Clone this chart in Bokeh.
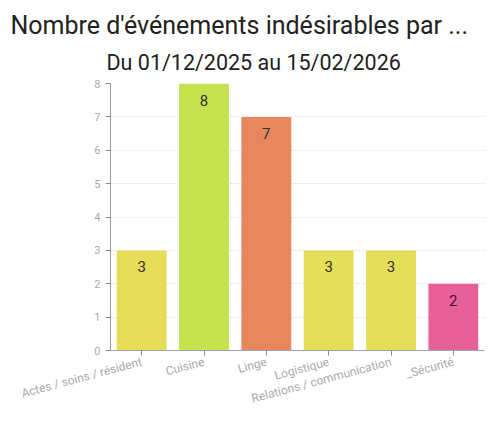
from bokeh.plotting import figure
from bokeh.models import ColumnDataSource, Title, Range1d, FixedTicker, LabelSet
from bokeh.core.properties import value
from bokeh.embed import file_html
from bokeh.resources import INLINE
import math

title_text = "Nombre d'événements indésirables par ..."
subtitle_text = "Du 01/12/2025 au 15/02/2026"
categories = ["Actes / soins / résident", "Cuisine", "Linge", "Logistique",
              "Relations / communication", "_Sécurité"]
values = [3, 8, 7, 3, 3, 2]
colors = ["#e6dc58", "#c6e24e", "#e8865e", "#e5de58", "#e5de58", "#e8609a"]
label_colors = ["#333333", "#333333", "#333333", "#333333", "#333333", "#4a1030"]
yticks = [0, 1, 2, 3, 4, 5, 6, 7, 8]

src = ColumnDataSource(dict(cat=categories, val=values, col=colors,
                            txt=[str(v) for v in values], tcol=label_colors))

p = figure(x_range=categories, y_range=Range1d(0, 8), width=489, height=415,
           output_backend="svg", toolbar_location=None, title=None,
           min_border_left=110, min_border_right=5, min_border_top=83,
           min_border_bottom=60)

p.add_layout(Title(text=subtitle_text, text_font="Roboto",
                   text_font_size="21.5px", text_font_style="normal",
                   text_color="#222222", align="left", offset=-4,
                   standoff=17), "above")
p.add_layout(Title(text=title_text, text_font="Roboto",
                   text_font_size="25px", text_font_style="normal",
                   text_color="#222222", align="left", offset=-100,
                   standoff=0, text_line_height=0.85), "above")

p.vbar(x="cat", top="val", width=0.8, source=src, fill_color="col",
       line_color=None)

labels = LabelSet(x="cat", y="val", text="txt", source=src, y_offset=-22,
                  text_align="center", text_font=value("Roboto"),
                  text_font_size="15px", text_color="tcol")
p.add_layout(labels)

p.outline_line_color = None
p.xgrid.grid_line_color = None
p.ygrid.grid_line_color = "#e0e0e0"
p.ygrid.grid_line_dash = "2 2"
p.yaxis.ticker = FixedTicker(ticks=yticks)
p.yaxis.axis_line_color = "#999999"
p.yaxis.major_tick_line_color = "#888888"
p.yaxis.major_tick_out = 5
p.yaxis.major_tick_in = 0
p.yaxis.minor_tick_line_color = None
p.yaxis.major_label_text_color = "#aaaaaa"
p.yaxis.major_label_text_font = "Roboto"
p.yaxis.major_label_text_font_size = "11px"

p.xaxis.axis_line_color = "#9aa4c0"
p.xaxis.major_tick_line_color = "#888888"
p.xaxis.major_tick_out = 5
p.xaxis.major_tick_in = 0
p.xaxis.major_label_orientation = math.radians(15)
p.xaxis.major_label_text_color = "#aaaaaa"
p.xaxis.major_label_text_font = "Roboto"
p.xaxis.major_label_text_font_size = "12px"
p.xaxis.major_label_standoff = 6

open("out.html", "w").write(file_html(p, INLINE))
